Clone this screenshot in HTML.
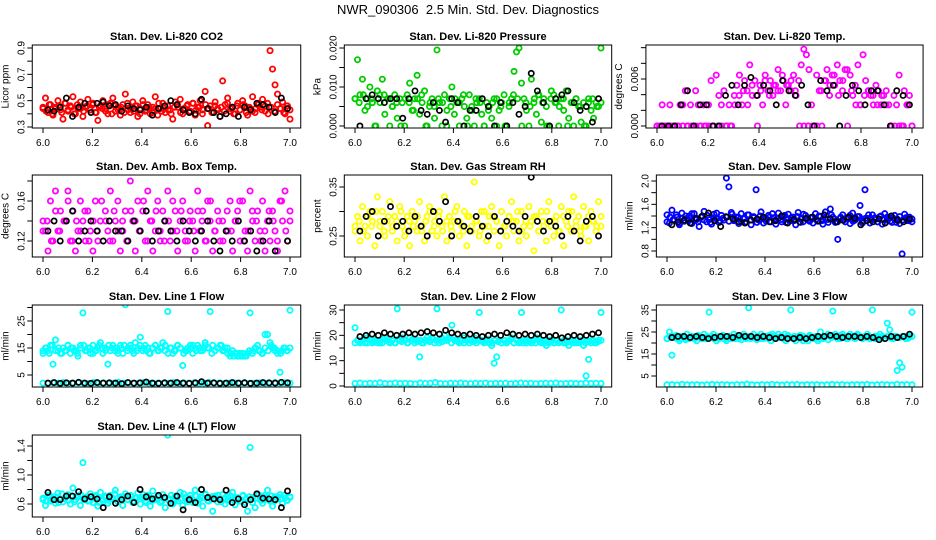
<!DOCTYPE html>
<html><head><meta charset="utf-8"><style>
body{margin:0;background:#fff}
svg{display:block;font-family:"Liberation Sans",sans-serif}
</style></head><body>
<svg id="chart" width="936" height="540" viewBox="0 0 936 540">
<text x="468" y="14" text-anchor="middle" font-size="13" xml:space="preserve">NWR_090306  2.5 Min. Std. Dev. Diagnostics</text>
</svg>
<script>
const xTicks=[6.0,6.2,6.4,6.6,6.8,7.0];
const co2Main=[0.44,0.52,0.41,0.47,0.39,0.45,0.50,0.43,0.36,0.48,0.42,0.46,0.53,0.40,0.44,0.49,0.38,0.45,0.51,0.43,0.47,0.41,0.35,0.46,0.50,0.44,0.40,0.48,0.52,0.42,0.45,0.39,0.47,0.55,0.43,0.41,0.49,0.46,0.38,0.44,0.50,0.42,0.47,0.40,0.45,0.53,0.39,0.44,0.48,0.41,0.46,0.43,0.36,0.49,0.45,0.51,0.40,0.44,0.47,0.42,0.48,0.39,0.45,0.50,0.43,0.57,0.31,0.46,0.41,0.49,0.44,0.38,0.65,0.47,0.52,0.42,0.45,0.40,0.48,0.43,0.50,0.46,0.39,0.44,0.53,0.41,0.47,0.45,0.51,0.42,0.48,0.88,0.74,0.62,0.55,0.44,0.49,0.40,0.46,0.36];
const co2Core=[0.45,0.42,0.47,0.40,0.44,0.46,0.41,0.48,0.43,0.45,0.40,0.47,0.44,0.42,0.46,0.43,0.48,0.41,0.45,0.44,0.42,0.47,0.40,0.46,0.43,0.45,0.41,0.48,0.44,0.42,0.46,0.40,0.47,0.43,0.45,0.41,0.44,0.48,0.42,0.46,0.43,0.40,0.45,0.47,0.41,0.44,0.46,0.42,0.48,0.43,0.45,0.40,0.47,0.44,0.41,0.46,0.43,0.45,0.42,0.48,0.44,0.40,0.46,0.43,0.47,0.41,0.45,0.42,0.44,0.48,0.43,0.46,0.40,0.45,0.42,0.47,0.44,0.41,0.46,0.43];
const co2Ref=[0.43,0.42,0.45,0.52,0.38,0.45,0.48,0.41,0.48,0.49,0.46,0.47,0.42,0.46,0.44,0.43,0.45,0.39,0.44,0.46,0.50,0.47,0.43,0.41,0.40,0.51,0.44,0.41,0.38,0.40,0.45,0.38,0.45,0.43,0.48,0.47,0.45,0.41,0.52,0.44];
const pressMain=[0.007,0.017,0.008,0.012,0.004,0.007,0.010,0.006,0.000,0.009,0.008,0.012,0.003,0.007,0.000,0.005,0.008,0.002,0.007,0.006,0.000,0.008,0.011,0.004,0.007,0.013,0.003,0.006,0.009,0.000,0.005,0.007,0.002,0.0195,0.006,0.000,0.008,0.004,0.007,0.010,0.003,0.006,0.000,0.007,0.005,0.002,0.008,0.004,0.000,0.006,0.007,0.003,0.000,0.006,0.005,0.002,0.007,0.000,0.004,0.006,0.008,0.000,0.005,0.007,0.014,0.019,0.020,0.011,0.007,0.004,0.000,0.012,0.006,0.003,0.008,0.001,0.007,0.005,0.000,0.009,0.008,0.006,0.000,0.007,0.004,0.009,0.002,0.006,0.000,0.007,0.005,0.001,0.006,0.000,0.007,0.004,0.002,0.006,0.005,0.020];
const pressCore=[0.007,0.006,0.008,0.005,0.007,0.000,0.006,0.008,0.007,0.005,0.006,0.000,0.007,0.006,0.004,0.007,0.008,0.000,0.006,0.005,0.007,0.006,0.000,0.005,0.007,0.006,0.008,0.000,0.005,0.007,0.006,0.000,0.004,0.006,0.007,0.005,0.000,0.006,0.008,0.007,0.000,0.006,0.005,0.007,0.008,0.006,0.000,0.007,0.006,0.005,0.007,0.000,0.006,0.007,0.005,0.000,0.006,0.007,0.005,0.006];
const pressRef=[0.000,0.007,0.008,0.007,0.006,0.007,0.007,0.002,0.007,0.009,0.004,0.003,0.006,0.004,0.001,0.007,0.006,0.000,0.004,0.004,0.007,0.005,0.000,0.006,0.000,0.006,0.003,0.005,0.0135,0.009,0.006,0.000,0.007,0.008,0.009,0.006,0.004,0.005,0.001,0.007];
const tempMain=[0,0,0.0027,0,0,0.0027,0,0,0,0.0027,0.0027,0.0045,0,0.0027,0,0.0045,0.0027,0,0.0027,0,0.0027,0.0058,0,0.0065,0.0039,0.0027,0.0045,0,0.0027,0,0.0039,0.0052,0.0065,0.0027,0.0058,0.0045,0.0078,0.0039,0.0058,0,0.0052,0.0027,0.0065,0.0045,0.0058,0.0039,0.0052,0.0072,0.0045,0.0058,0.0027,0.0052,0.0045,0.0065,0.0039,0.0058,0.0078,0.0098,0.0091,0.0072,0.0027,0,0.0065,0.0045,0,0.0058,0.0072,0.0039,0.0065,0.0052,0.0078,0.0058,0.0045,0.0072,0,0.0065,0.0039,0.0052,0.0078,0.0027,0.0091,0.0058,0.0045,0.0039,0.0027,0.0052,0.0045,0.0027,0.0039,0.0045,0.0027,0,0.0039,0.0027,0.0065,0,0.0045,0.0027,0.0039,0];
const tempCore=[0,0,0,0,0,0,0,0,0,0,0,0,0,0,0,0,0,0,0.0027,0.0039,0.0045,0.0027,0.0052,0.0039,0.0045,0.0058,0.0039,0.0052,0.0045,0.0065,0.0052,0.0058,0.0045,0,0,0,0,0,0.0045,0.0058,0.0052,0.0065,0.0039,0.0058,0.0072,0.0045,0.0027,0.0027,0.0039,0.0045,0.0039,0.0027,0.0039,0.0027,0,0,0,0,0.0027,0];
const tempRef=[0,0,0,0.0027,0.0045,0,0.0027,0.0027,0,0,0.0039,0.0052,0.0027,0.0052,0.0062,0.0039,0.0052,0.0045,0.0027,0.0058,0.0045,0.0039,0.0052,0.0027,0,0.0058,0.0045,0.0052,0,0.0039,0.0052,0.0045,0.0027,0.0045,0.0045,0.0027,0,0.0045,0.0039,0.0027];
const ambMain=[0.14,0.13,0.11,0.16,0.12,0.17,0.13,0.15,0.10,0.14,0.17,0.12,0.15,0.11,0.13,0.16,0.14,0.12,0.15,0.13,0.11,0.16,0.12,0.14,0.10,0.15,0.13,0.17,0.12,0.14,0.16,0.11,0.13,0.15,0.12,0.18,0.14,0.11,0.16,0.13,0.15,0.12,0.17,0.14,0.11,0.13,0.16,0.12,0.15,0.14,0.17,0.12,0.13,0.15,0.11,0.14,0.16,0.13,0.12,0.15,0.14,0.11,0.17,0.13,0.15,0.12,0.16,0.14,0.11,0.13,0.15,0.12,0.14,0.19,0.13,0.16,0.11,0.14,0.15,0.12,0.16,0.13,0.11,0.17,0.14,0.12,0.15,0.13,0.16,0.11,0.14,0.12,0.15,0.13,0.11,0.16,0.14,0.17,0.12,0.15];
const ambCore=[0.13,0.14,0.12,0.15,0.13,0.14,0.16,0.12,0.14,0.13,0.15,0.12,0.14,0.13,0.16,0.14,0.12,0.15,0.13,0.14,0.12,0.15,0.14,0.13,0.16,0.12,0.14,0.15,0.13,0.12,0.14,0.16,0.13,0.15,0.12,0.14,0.13,0.15,0.14,0.12,0.16,0.13,0.14,0.12,0.15,0.13,0.14,0.16,0.12,0.13,0.15,0.14,0.12,0.13,0.15,0.14,0.12,0.16,0.13,0.14];
const ambRef=[0.13,0.14,0.12,0.14,0.15,0.12,0.13,0.14,0.13,0.12,0.14,0.13,0.13,0.12,0.14,0.13,0.15,0.12,0.13,0.14,0.13,0.12,0.14,0.13,0.12,0.13,0.14,0.12,0.11,0.13,0.12,0.14,0.12,0.13,0.11,0.12,0.14,0.11,0.10,0.12];
const rhMain=[0.26,0.29,0.24,0.31,0.27,0.25,0.30,0.28,0.23,0.33,0.27,0.30,0.25,0.28,0.32,0.26,0.29,0.24,0.31,0.27,0.25,0.29,0.23,0.30,0.28,0.26,0.32,0.27,0.24,0.29,0.31,0.26,0.28,0.25,0.30,0.27,0.33,0.24,0.29,0.26,0.28,0.31,0.25,0.27,0.30,0.23,0.29,0.26,0.36,0.28,0.25,0.30,0.27,0.24,0.29,0.31,0.26,0.28,0.23,0.30,0.27,0.25,0.29,0.32,0.26,0.28,0.24,0.30,0.27,0.25,0.31,0.28,0.22,0.29,0.26,0.30,0.27,0.24,0.32,0.28,0.25,0.29,0.26,0.31,0.23,0.28,0.30,0.26,0.33,0.27,0.29,0.25,0.31,0.27,0.24,0.30,0.28,0.26,0.32,0.27];
const rhCore=[0.27,0.28,0.26,0.29,0.27,0.30,0.28,0.26,0.29,0.27,0.28,0.30,0.26,0.28,0.27,0.29,0.26,0.28,0.30,0.27,0.29,0.26,0.28,0.27,0.30,0.28,0.26,0.29,0.27,0.28,0.26,0.30,0.27,0.29,0.28,0.26,0.27,0.29,0.28,0.30,0.26,0.28,0.27,0.29,0.26,0.28,0.30,0.27,0.28,0.26,0.29,0.27,0.30,0.28,0.26,0.27,0.29,0.28,0.27,0.29];
const rhRef=[0.26,0.29,0.30,0.25,0.28,0.31,0.27,0.28,0.26,0.29,0.27,0.25,0.30,0.28,0.32,0.25,0.28,0.27,0.26,0.29,0.27,0.25,0.29,0.26,0.28,0.27,0.26,0.29,0.37,0.28,0.26,0.28,0.27,0.25,0.29,0.26,0.24,0.28,0.29,0.25];
const flowMain=[1.42,1.28,1.50,1.33,1.38,1.25,1.45,1.31,1.36,1.40,1.27,1.44,1.34,1.22,1.39,1.48,1.30,1.37,1.26,1.43,1.35,1.29,1.41,1.33,2.05,1.90,1.46,1.32,1.38,1.27,1.44,1.35,1.30,1.42,1.25,1.39,1.85,1.33,1.47,1.28,1.36,1.41,1.30,1.37,1.26,1.45,1.34,1.39,1.29,1.43,1.32,1.38,1.25,1.46,1.35,1.30,1.41,1.33,1.37,1.28,1.44,1.31,1.39,1.26,1.47,1.34,1.52,1.38,1.29,1.00,1.36,1.42,1.30,1.37,1.27,1.45,1.33,1.39,1.58,1.31,1.85,1.36,1.28,1.42,1.34,1.30,1.39,1.26,1.44,1.33,1.37,1.29,1.41,1.35,1.27,0.75,1.43,1.32,1.38,1.30];
const flowCore=[1.30,1.38,1.34,1.42,1.28,1.36,1.40,1.32,1.44,1.35,1.30,1.38,1.33,1.41,1.29,1.37,1.45,1.32,1.36,1.39,1.31,1.43,1.34,1.38,1.30,1.36,1.42,1.33,1.37,1.29,1.40,1.35,1.31,1.38,1.44,1.33,1.36,1.30,1.41,1.34,1.37,1.32,1.39,1.29,1.43,1.35,1.31,1.38,1.34,1.40,1.32,1.36,1.29,1.42,1.35,1.30,1.38,1.33,1.37,1.41,1.31,1.35,1.39,1.28,1.36,1.42,1.33,1.37,1.30,1.40,1.34,1.38,1.31,1.36,1.29,1.39,1.33,1.37,1.32,1.35];
const flowRef=[1.25,1.30,1.33,1.28,1.36,1.40,1.45,1.32,1.22,1.38,1.35,1.30,1.28,1.33,1.35,1.38,1.30,1.32,1.40,1.28,1.34,1.30,1.36,1.38,1.32,1.42,1.35,1.30,1.33,1.38,1.36,1.25,1.32,1.30,1.35,1.28,1.40,1.33,1.30,1.35];
const line1Main=[13,15,14,16,9,18,14,13,15,14,16,13,15,14,12,16,28,14,15,13,16,14,15,17,13,15,9,14,16,15,14,16,13,31,15,16,14,17,15,19,14,16,15,13,15,16,14,15,17,16,28.5,15,13,14,16,15,8.5,14,15,16,13,15,16,14,15,17,15,28.5,16,14,15,16,14,15,13,12,14,13,12,13,12,12,13,28,14,15,16,14,13,20,20,17,15,14,13,6,14,15,14,29];
const line1Core=[14,15,13,16,14,15,13,14,16,15,14,13,15,16,14,15,13,14,16,15,14,16,15,14,13,15,16,14,15,13,14,16,15,14,13,15,16,14,15,14,13,15,14,16,15,13,14,15,16,14,15,14,16,15,13,14,15,16,14,15,13,12,13,12,13,12,14,13,15,14,13,15,14,16,15,14,13,15,14,15];
const line1Low=[2,1.9,2.1,2,2.2,1.9,2,2.1,2,1.8,2.2,2,2.1,1.9,2,2.3,2,2.1,1.9,2,2.2,2,1.9,2.1,2,2,2.2,1.9,2.1,2,2.1,1.9,2,2.2,2,2.1,1.9,2,2.1,2,2.2,1.9,2,2.1,2,1.9,2.2,2,2.1,2];
const line1Ref=[2,2.2,1.9,2.1,2,2.3,2,1.9,2.2,2,2.1,2,1.8,2.2,2,2.1,2.4,2,1.9,2.1,2,2.2,2,1.9,2.1,2.5,2,2.1,1.9,2,2.2,2,2.1,1.9,2,2.2,2.1,2,2.3,2.1];
const line2Main=[23,18,17,18,17,19,18,17,18,17,18,17,19,18,17,18,17,30.5,18,19,18,17,19,18,17,18,11.5,17,18,19,18,19,17,30.5,18,19,20,18,19,24,19,18,17,18,19,18,17,18,19,18,29,18,17,18,17,16,9,11.5,18,17,18,17,18,19,17,18,17,29,18,17,18,17,18,19,18,17,18,16,17,18,17,18,17,30,18,17,16,18,17,18,17,18,16,4,10.5,17,18,17,18,29];
const line2Core=[17,18,17.5,18.5,17,18,17.5,18,17,18.5,18,17.5,18,17,18.5,17.5,18,17,18,18.5,17.5,18,17,18,17.5,18.5,18,17,17.5,18,18.5,17,18,17.5,18,17,18.5,18,17.5,17,18,17.5,18,18.5,17,18,17.5,17,18,17.5,18.5,17,18,17.5,17,18,17.5,18,17,18.5,17.5,17,18,17.5,17,18,17.5,17,18,17.5,18,17,17.5,18,17,17.5,18,17,17.5,18];
const line2Low=[1,1.2,0.9,1.1,1,1.3,1,0.9,1.2,1,1.1,1,0.8,1.2,1,1.1,1.4,1,0.9,1.1,1,1.2,1,0.9,1.1,1,1.2,0.9,1.1,1,1.1,0.9,1,1.2,1,1.1,0.9,1,1.1,1,1.2,0.9,1,1.1,1,0.9,1.2,1,1.1,1];
const line2Ref=[19.5,20,20.5,20,21,20.5,20,20.5,21,20.5,21,21.5,21,20.5,22,21,20.5,20,20.5,20,19.5,20,20.5,20,21,20.5,20,20.5,20,20.5,20,19.5,20,19,19.5,20,19.5,20,20.5,21];
const line3Main=[22,25,14.5,23,22,21,23,22,24,22,23,22,21,23,22,24,22,34,23,22,21,22,23,22,21,23,22,24,23,22,23,24,22,36,23,24,22,23,24,22,23,22,21,23,22,24,23,22,21,23,35,22,21,23,22,21,22,21,23,22,22,21,25,22,23,24,23,34.5,24,23,22,24,23,22,24,23,22,24,23,22,23,24,22,35,23,22,24,23,22,29,26,22,23,7.5,11,9,23,22,23,34];
const line3Core=[22,23,22.5,23.5,22,23,21.5,22.5,23,22,23.5,22.5,22,23,22.5,24,23,22.5,23.5,22,23,22.5,22,23,21.5,22.5,23,22,22.5,21.5,22,22.5,23,23.5,24,23,22.5,23,24,23.5,22.5,23,22.5,23.5,23,22,23.5,22.5,23,22,22.5,23,21.5,22.5,23,22,23.5,22.5,22,23,22.5,23.5,23,22,22.5,23,22.5,22,23,22.5,22,23,22.5,22,23,22.5,23,22,22.5,23];
const line3Low=[1,1.1,0.9,1.2,1,1,1.1,0.9,1,1.2,1,1.1,1,0.9,1.1,1,1.3,1,0.9,1.1,1,1.2,1,0.9,1.1,1,1.2,0.9,1.1,1,1.1,0.9,1,1.2,1,1.1,0.9,1,1.1,1,1.2,0.9,1,1.1,1,0.9,1.2,1,1.1,1];
const line3Ref=[22.5,23,23,22.5,23,22.5,22,22.5,23,23,22.5,23.5,23,23,22.5,23,22.5,22,22.5,22,22,22.5,22,22.5,23,23,23.5,23,22.5,23,23,22.5,23,22.5,21.5,22,23,22.5,23,24];
const line4Main=[0.66,0.58,0.72,0.64,0.70,0.61,0.75,0.67,0.63,0.69,0.73,0.60,0.82,0.66,0.71,0.58,1.17,0.68,0.64,0.74,0.62,0.70,0.57,0.76,0.65,0.69,0.61,0.72,0.67,0.79,0.63,0.70,0.58,0.74,0.66,0.71,0.62,0.68,0.75,0.60,0.69,0.64,0.72,0.57,0.78,0.66,0.70,0.62,0.73,0.55,1.55,0.67,0.60,0.71,0.64,0.76,0.58,0.69,0.63,0.72,0.66,0.79,0.61,0.70,0.57,0.74,0.65,0.68,0.50,0.71,0.63,0.67,0.73,0.60,0.70,0.66,0.76,0.59,0.68,0.64,0.71,0.62,0.50,1.38,0.69,0.55,0.74,0.66,0.61,0.72,0.79,0.64,0.57,0.70,0.67,0.73,0.61,0.68,0.65,0.70];
const line4Core=[0.68,0.64,0.72,0.66,0.70,0.62,0.74,0.67,0.65,0.71,0.63,0.69,0.73,0.66,0.70,0.64,0.68,0.72,0.62,0.67,0.71,0.65,0.69,0.74,0.63,0.68,0.70,0.66,0.72,0.64,0.69,0.67,0.73,0.62,0.70,0.65,0.68,0.71,0.64,0.69,0.66,0.72,0.63,0.70,0.67,0.74,0.65,0.68,0.62,0.71,0.66,0.69,0.73,0.64,0.70,0.67,0.72,0.63,0.68,0.65,0.71,0.66,0.69,0.64,0.72,0.67,0.70,0.62,0.68,0.73,0.65,0.69,0.66,0.71,0.64,0.70,0.67,0.72,0.65,0.69];
const line4Ref=[0.76,0.66,0.66,0.71,0.71,0.77,0.67,0.70,0.67,0.55,0.70,0.61,0.66,0.71,0.62,0.80,0.70,0.67,0.72,0.69,0.61,0.71,0.52,0.66,0.62,0.80,0.69,0.67,0.66,0.79,0.62,0.67,0.59,0.66,0.74,0.68,0.67,0.66,0.55,0.78];

const NS='http://www.w3.org/2000/svg';
const svg=document.getElementById('chart');
function mk(tag,attrs,parent){const e=document.createElementNS(NS,tag);for(const k in attrs)e.setAttribute(k,attrs[k]);(parent||svg).appendChild(e);return e;}

const panels=[
 {name:'co2',title:'Stan. Dev. Li-820 CO2',ylab:'Licor ppm',x6:43,x7:290,top:45,bot:128,v0:0.3,p0:127,v1:0.9,p1:48,ticks:[0.3,0.4,0.5,0.6,0.7,0.8,0.9],labels:[0.3,0.5,0.7,0.9],dec:1,color:'#ff0000',series:[co2Main,co2Core],ref:co2Ref},
 {name:'pressure',title:'Stan. Dev. Li-820 Pressure',ylab:'kPa',x6:355,x7:601,top:45,bot:128,v0:0,p0:126,v1:0.02,p1:48,ticks:[0,0.005,0.01,0.015,0.02],labels:[0,0.01,0.02],dec:3,color:'#00cd00',series:[pressMain,pressCore],ref:pressRef},
 {name:'temp',title:'Stan. Dev. Li-820 Temp.',ylab:'degrees C',x6:657,x7:912,top:45,bot:128,v0:0,p0:126,v1:0.006,p1:79,ticks:[0,0.002,0.004,0.006,0.008,0.010],labels:[0,0.006],dec:3,color:'#ff00ff',series:[tempMain,tempCore],ref:tempRef},
 {name:'amb-box-temp',title:'Stan. Dev. Amb. Box Temp.',ylab:'degrees C',x6:43,x7:290,top:175,bot:257,v0:0.12,p0:241,v1:0.16,p1:201,ticks:[0.12,0.14,0.16,0.18],labels:[0.12,0.16],dec:2,color:'#ff00ff',series:[ambMain,ambCore],ref:ambRef},
 {name:'gas-stream-rh',title:'Stan. Dev. Gas Stream RH',ylab:'percent',x6:355,x7:601,top:175,bot:257,v0:0.25,p0:236,v1:0.35,p1:187,ticks:[0.25,0.30,0.35],labels:[0.25,0.35],dec:2,color:'#ffff00',series:[rhMain,rhCore],ref:rhRef},
 {name:'sample-flow',title:'Stan. Dev. Sample Flow',ylab:'ml/min',x6:667,x7:912,top:175,bot:257,v0:0.8,p0:251,v1:2.0,p1:181,ticks:[0.8,1.0,1.2,1.4,1.6,1.8,2.0],labels:[0.8,1.2,1.6,2.0],dec:1,color:'#0000ff',series:[flowMain,flowCore],ref:flowRef},
 {name:'line1-flow',title:'Stan. Dev. Line 1 Flow',ylab:'ml/min',x6:43,x7:290,top:305,bot:387,v0:5,p0:375,v1:25,p1:321,ticks:[5,10,15,20,25,30],labels:[5,15,25],dec:0,color:'#00ffff',series:[line1Main,line1Core,line1Low],ref:line1Ref},
 {name:'line2-flow',title:'Stan. Dev. Line 2 Flow',ylab:'ml/min',x6:355,x7:601,top:305,bot:387,v0:0,p0:386,v1:30,p1:310,ticks:[0,5,10,15,20,25,30],labels:[0,10,20,30],dec:0,color:'#00ffff',series:[line2Main,line2Core,line2Low],ref:line2Ref},
 {name:'line3-flow',title:'Stan. Dev. Line 3 Flow',ylab:'ml/min',x6:667,x7:912,top:305,bot:387,v0:5,p0:376,v1:35,p1:310,ticks:[5,10,15,20,25,30,35],labels:[5,15,25,35],dec:0,color:'#00ffff',series:[line3Main,line3Core,line3Low],ref:line3Ref},
 {name:'line4-flow',title:'Stan. Dev. Line 4 (LT) Flow',ylab:'ml/min',x6:43,x7:290,top:435,bot:517,v0:0.6,p0:504,v1:1.4,p1:446,ticks:[0.6,0.8,1.0,1.2,1.4],labels:[0.6,1.0,1.4],dec:1,color:'#00ffff',series:[line4Main,line4Core],ref:line4Ref}
];

panels.forEach(p=>{
  const g=mk('g',{});
  
  
  const span=p.x7-p.x6, bw=span/0.92, left=p.x6-0.04*bw, right=left+bw;
  const xs=v=>p.x6+(v-6)*span;
  const ys=v=>p.p0+(v-p.v0)*(p.p1-p.p0)/(p.v1-p.v0);
  const clip='clip-'+p.name;
  const cp=mk('clipPath',{id:clip},g);
  mk('rect',{x:left,y:p.top,width:bw,height:p.bot-p.top},cp);
  const t=mk('text',{x:(left+right)/2,y:p.top-5,'text-anchor':'middle','font-size':11,'font-weight':'bold'},g);
  t.textContent=p.title;
  
  
  const pg=mk('g',{'clip-path':'url(#'+clip+')'},g);
  
  
  p.series.forEach(arr=>{
    const n=arr.length;
    arr.forEach((v,i)=>{
      const c=mk('circle',{cx:xs(6+i/(n-1)),cy:ys(v),r:2.6,fill:'none',stroke:p.color,'stroke-width':1.8},pg);
      
      
    });
  });
  const m=p.ref.length;
  p.ref.forEach((v,i)=>{
    const c=mk('circle',{cx:xs(6.02+0.97*i/(m-1)),cy:ys(v),r:2.6,fill:'none',stroke:'#000','stroke-width':1.7},pg);
    
    
  });
  const box=mk('rect',{x:left,y:p.top,width:bw,height:p.bot-p.top,fill:'none',stroke:'#000','stroke-width':1},g);
  
  
  xTicks.forEach(v=>{
    const x=xs(v);
    mk('line',{x1:x,y1:p.bot,x2:x,y2:p.bot+5,stroke:'#000'},g);
    const lt=mk('text',{x:x,y:p.bot+18,'text-anchor':'middle','font-size':10},g);
    lt.textContent=v.toFixed(1);
    
    
  });
  p.ticks.forEach(v=>{
    const y=ys(v); if(y<p.top-1||y>p.bot+1) return;
    mk('line',{x1:left,y1:y,x2:left-5,y2:y,stroke:'#000'},g);
  });
  p.labels.forEach(v=>{
    const y=ys(v), x=left-8;
    const lt=mk('text',{x:x,y:y,'text-anchor':'middle','font-size':10,transform:'rotate(-90 '+x+' '+y+')'},g);
    lt.textContent=v.toFixed(p.dec);
    
    
  });
  const yx=left-24, yy=(p.top+p.bot)/2;
  const yl=mk('text',{x:yx,y:yy,'text-anchor':'middle','font-size':10,transform:'rotate(-90 '+yx+' '+yy+')'},g);
  yl.textContent=p.ylab;
  
  
});
</script>
</body></html>
